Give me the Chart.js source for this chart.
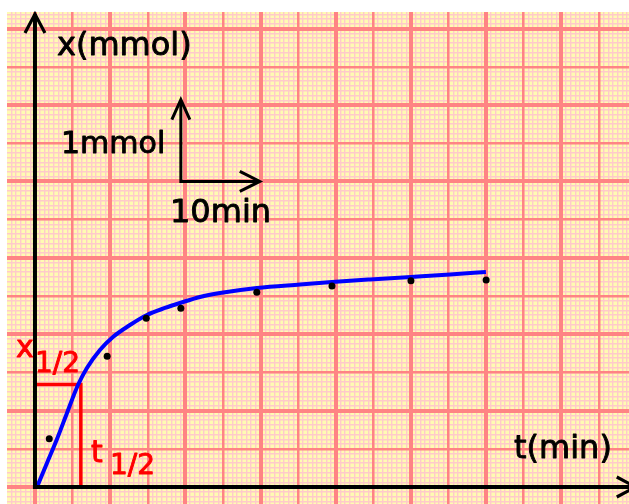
<!DOCTYPE html>
<html><head><meta charset="utf-8">
<script src="https://cdn.jsdelivr.net/npm/chart.js@4.4.1/dist/chart.umd.min.js"></script>
<style>html,body{margin:0;padding:0;background:#fff;overflow:hidden}canvas{display:block}</style>
</head><body>
<canvas id="c" width="629" height="504"></canvas>
<script>
// measured samples: t (min), x (mmol)
const sampleT = [1.9, 9.6, 14.8, 19.4, 29.5, 39.5, 50.0, 60.0];
const sampleX = [0.63, 1.71, 2.21, 2.34, 2.55, 2.63, 2.70, 2.71];
// fitted curve
const curveT = [0.27, 1.6, 2.93, 4.26, 5.72, 6.91, 8.64, 10.37, 12.63, 14.89, 17.29, 19.28, 21.94, 24.6, 29.52, 35.24, 39.49, 44.55, 50.0, 55.19, 59.97];
const curveX = [0, 0.314, 0.628, 0.969, 1.335, 1.557, 1.793, 1.963, 2.12, 2.251, 2.343, 2.408, 2.487, 2.539, 2.605, 2.651, 2.683, 2.716, 2.749, 2.781, 2.814];
// half-life marker
const halfT = 6.1, halfX = 1.34;
// visible ranges
const tRange = [-3.72, 79.0];
const xRange = [-0.2225, 6.217];
const tMajorStep = 5, xMajorStep = 0.5, minorDiv = 8;
// scale indicator (1 mmol / 10 min)
const scaleBarOrigin = [19.4, 4.0], scaleBarTEnd = 29.9, scaleBarXEnd = 5.07;
const axisTipT = 79.9, axisTipX = 6.19;
// text labels
const labelTexts = ['x(mmol)', '1mmol', '10min', 't(min)', 'x', '1/2', 't', '1/2'];

function ticksBetween(lo, hi, step) {
  const a = [];
  for (let k = Math.ceil(lo / step - 1e-9); k * step <= hi + 1e-9; k++) a.push(+(k * step).toFixed(6));
  return a;
}
const tMajorTicks = ticksBetween(tRange[0], tRange[1], tMajorStep);
const tMinorTicks = ticksBetween(tRange[0], tRange[1], tMajorStep / minorDiv);
const xMajorTicks = ticksBetween(xRange[0], xRange[1], xMajorStep);
const xMinorTicks = ticksBetween(xRange[0], xRange[1], xMajorStep / minorDiv);

const MAJOR = '#ff8484', MINOR = '#ffcaca', PAPER = '#fffbb2';

function gridScale(axis, range, ticks, color, width, z) {
  return {
    type: 'linear', axis: axis, position: axis === 'x' ? 'bottom' : 'left',
    min: range[0], max: range[1],
    afterBuildTicks: s => { s.ticks = ticks.map(v => ({ value: v })); },
    ticks: { display: false },
    border: { display: false },
    grid: { color: color, lineWidth: width, drawTicks: false, z: z }
  };
}
const majorW = step => ctx => {
  const v = ctx.tick ? ctx.tick.value : 0;
  return Math.abs(Math.round(v / step)) % 2 === 0 ? 4 : 2.5;
};

const paperPlugin = {
  id: 'paper',
  beforeDraw(chart) {
    const { ctx, chartArea: a } = chart;
    ctx.save();
    ctx.fillStyle = PAPER;
    ctx.fillRect(a.left, a.top, a.right - a.left, a.bottom - a.top);
    ctx.restore();
  }
};

function arrowHead(ctx, tipX, tipY, dirX, dirY, len, half) {
  const bx = tipX - dirX * len, by = tipY - dirY * len;
  const px = -dirY, py = dirX;
  ctx.beginPath();
  ctx.moveTo(bx + px * half, by + py * half);
  ctx.lineTo(tipX, tipY);
  ctx.lineTo(bx - px * half, by - py * half);
  ctx.stroke();
}

const axesPlugin = {
  id: 'axesArrows',
  afterDatasetsDraw(chart) {
    const { ctx } = chart;
    const X = chart.scales.x, Y = chart.scales.y;
    const ox = X.getPixelForValue(0), oy = Y.getPixelForValue(0);
    const tipY = Y.getPixelForValue(axisTipX), tipX = X.getPixelForValue(axisTipT);
    ctx.save();
    ctx.strokeStyle = '#000';
    ctx.lineCap = 'square';
    ctx.lineWidth = 4;
    ctx.beginPath(); ctx.moveTo(ox, oy); ctx.lineTo(ox, tipY + 2); ctx.stroke();
    ctx.beginPath(); ctx.moveTo(ox, oy); ctx.lineTo(tipX - 2, oy); ctx.stroke();
    ctx.lineWidth = 3.2; ctx.lineCap = 'butt'; ctx.lineJoin = 'miter';
    arrowHead(ctx, ox, tipY, 0, -1, 19, 10);
    arrowHead(ctx, tipX, oy, 1, 0, 19, 10);
    // scale indicator
    const sx = X.getPixelForValue(scaleBarOrigin[0]), sy = Y.getPixelForValue(scaleBarOrigin[1]);
    const sxe = X.getPixelForValue(scaleBarTEnd), sye = Y.getPixelForValue(scaleBarXEnd);
    ctx.lineWidth = 3;
    ctx.beginPath(); ctx.moveTo(sx, sye + 1); ctx.lineTo(sx, sy); ctx.lineTo(sxe - 1, sy); ctx.stroke();
    arrowHead(ctx, sx, sye, 0, -1, 20, 9);
    arrowHead(ctx, sxe, sy, 1, 0, 20, 10);
    ctx.restore();
  }
};

const labelPos = [
  { x: 57, y: 55, color: '#000', size: 32 },
  { x: 61, y: 153, color: '#000', size: 30 },
  { x: 170, y: 222, color: '#000', size: 32 },
  { x: 514, y: 458, color: '#000', size: 32 },
  { x: 16, y: 357, color: '#ff0000', size: 30 },
  { x: 35, y: 372, color: '#ff0000', size: 28 },
  { x: 91, y: 462, color: '#ff0000', size: 30 },
  { x: 110, y: 474, color: '#ff0000', size: 28 }
];
const textPlugin = {
  id: 'texts',
  afterDraw(chart) {
    const { ctx } = chart;
    ctx.save();
    ctx.textBaseline = 'alphabetic';
    ctx.textAlign = 'left';
    ctx.lineWidth = 0.9;
    ctx.lineJoin = 'round';
    labelTexts.forEach((t, i) => {
      const p = labelPos[i];
      ctx.fillStyle = p.color;
      ctx.strokeStyle = p.color;
      ctx.font = p.size + 'px "DejaVu Sans"';
      ctx.fillText(t, p.x, p.y);
      ctx.strokeText(t, p.x, p.y);
    });
    ctx.restore();
  }
};

new Chart(document.getElementById('c'), {
  type: 'scatter',
  data: {
    datasets: [
      { label: 'samples', data: sampleT.map((t, i) => ({ x: t, y: sampleX[i] })),
        showLine: false, pointRadius: 3.5, pointBackgroundColor: '#000', pointBorderWidth: 0, order: 1 },
      { label: 'fit', data: curveT.map((t, i) => ({ x: t, y: curveX[i] })),
        showLine: true, borderColor: '#0000ff', borderWidth: 4, pointRadius: 0,
        cubicInterpolationMode: 'monotone', order: 2 },
      { label: 'half', data: [{ x: 0, y: halfX }, { x: halfT, y: halfX }, { x: halfT, y: 0 }],
        showLine: true, borderColor: '#ff0000', borderWidth: 3.5, pointRadius: 0, tension: 0, order: 3 }
    ]
  },
  options: {
    responsive: false, devicePixelRatio: 1, animation: false, events: [],
    layout: { autoPadding: false, padding: { left: 7, top: 12, right: 0, bottom: 0 } },
    plugins: { legend: { display: false }, tooltip: { enabled: false } },
    scales: {
      xMinor: gridScale('x', tRange, tMinorTicks, MINOR, 1.4, -3),
      yMinor: gridScale('y', xRange, xMinorTicks, MINOR, 1.4, -3),
      x: gridScale('x', tRange, tMajorTicks, MAJOR, majorW(tMajorStep), -2),
      y: gridScale('y', xRange, xMajorTicks, MAJOR, majorW(xMajorStep), -2)
    }
  },
  plugins: [paperPlugin, axesPlugin, textPlugin]
});
</script>
</body></html>
